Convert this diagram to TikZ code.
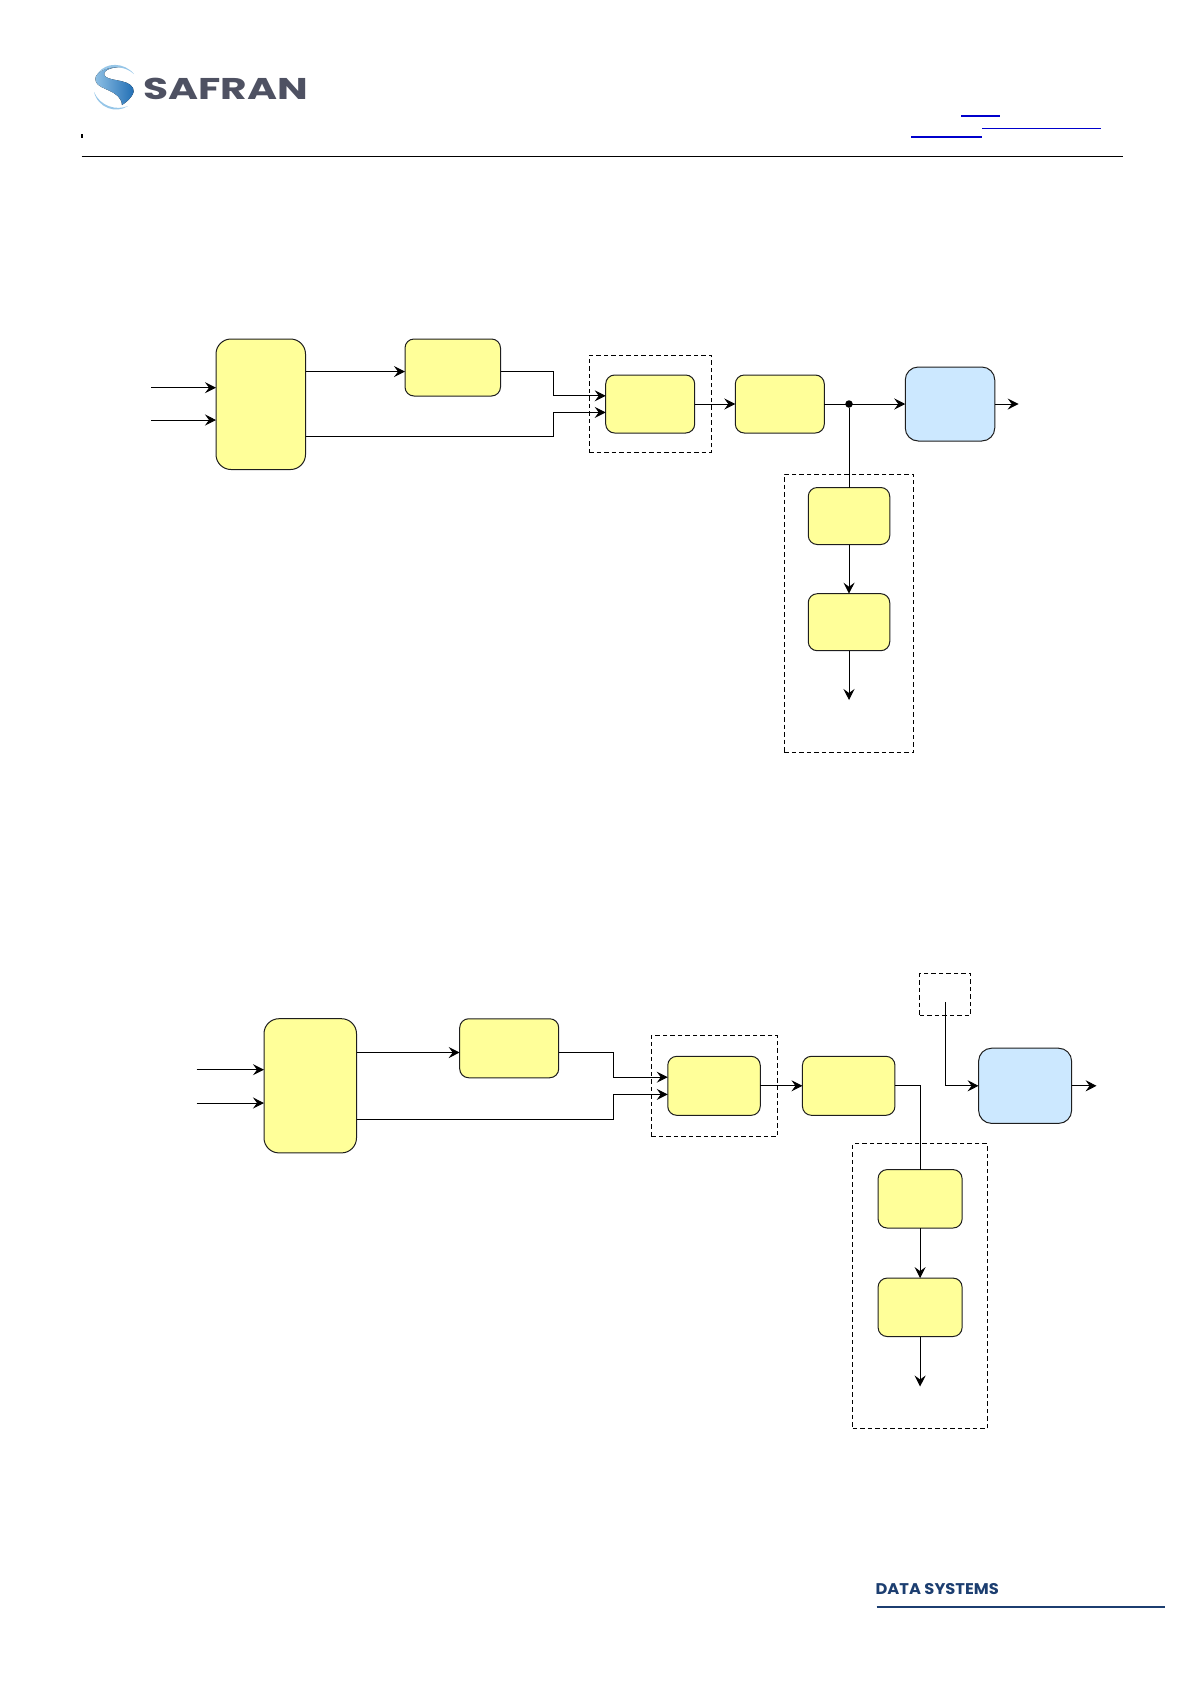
\documentclass[tikz,border=0pt]{standalone}
\usepackage{xcolor}
\usepackage{fontspec}
\usepackage{tikz}
\usetikzlibrary{arrows.meta, positioning}
\newfontfamily\brandfont{Poppins}
\definecolor{boxyellow}{RGB}{255, 255, 153}
\definecolor{boxblue}{RGB}{204, 232, 255}
\definecolor{edgegray}{RGB}{30, 30, 30}
\definecolor{brandgray}{RGB}{78, 81, 98}
\definecolor{brandnavy}{RGB}{28, 62, 112}
\definecolor{linkblue}{RGB}{0, 0, 204}
\definecolor{swooshlight}{RGB}{150, 198, 232}
\definecolor{swooshdark}{RGB}{28, 106, 178}

\begin{document}
\begin{tikzpicture}[x=1pt, y=-1pt,
    block/.style={rectangle, draw=edgegray, fill=boxyellow, line width=1pt, inner sep=0pt, outer sep=0pt, rounded corners=9pt},
    tallblock/.style={block, rounded corners=15pt},
    output/.style={block, fill=boxblue, rounded corners=13pt},
    smallA/.style={minimum width=89pt, minimum height=58pt},
    smallB/.style={minimum width=92.5pt, minimum height=59pt},
    group/.style={rectangle, draw=black, dash pattern=on 4.5pt off 3pt, line width=1pt, inner sep=0pt, outer sep=0pt},
    tap/.style={circle, fill=black, inner sep=0pt, minimum size=7.5pt},
    line/.style={draw=black, line width=1pt, -{Stealth[length=11pt, width=11pt, inset=4pt]}},
    wire/.style={draw=black, line width=1pt}]
    \useasboundingbox (0,0) rectangle (1191,1684);

    % header
    \fill [left color=swooshlight, right color=swooshdark] (122,67) .. controls (105,66) and (92,74) .. (96,82) .. controls (99,90) and (121,90) .. (122,105) .. controls (130,100) and (136,92) .. (133,88) .. controls (128,78) and (105,82) .. (104,74) .. controls (104,70) and (112,67) .. (122,67);
    \fill [swooshlight] (98,73) .. controls (106,62) and (124,62) .. (134,74) .. controls (124,65) and (108,65) .. (98,73);
    \fill [swooshlight] (94,92) .. controls (98,108) and (116,114) .. (128,106) .. controls (116,111) and (100,106) .. (94,92);
    \node [anchor=center, xscale=1.36, text=brandgray, font=\brandfont\bfseries\fontsize{30}{30}\selectfont] (brand) at (225.8,89) {SAFRAN};
    \fill (81,134) rectangle (83,138);
    \draw [linkblue, line width=2pt] (961,115.5) -- (1000,115.5);
    \draw [linkblue, line width=1pt] (982,128.4) -- (1101,128.4);
    \draw [linkblue, line width=2pt] (911,137) -- (982,137);
    \draw [black, line width=1.1pt] (81.6,156.3) -- (1123,156.3);

    % first chain
    \node [tallblock, minimum width=89.5pt, minimum height=130.5pt] (inputA) at (260.75,404.25) {};
    \node [block, minimum width=95.5pt, minimum height=57pt] (filterA) at (452.75,367.5) {};
    \node [block, smallA] (mixA) at (650.2,404) {};
    \node [block, smallA, right of=mixA, node distance=129.6pt] (procA) {};
    \node [tap, right of=procA, node distance=69.2pt] (tapA) {};
    \node [output, minimum width=89.5pt, minimum height=74pt, right of=tapA, node distance=101pt] (outA) {};
    \node [block, minimum width=81.5pt, minimum height=57pt, below of=tapA, node distance=112pt] (sideA) {};
    \node [block, minimum width=81.5pt, minimum height=57pt, below of=sideA, node distance=106.2pt] (sinkA) {};
    \node [group, minimum width=122pt, minimum height=97.5pt] (groupA) at (mixA) {};
    \node [group, minimum width=129.5pt, minimum height=278pt, below of=sideA, node distance=97pt] (stackA) {};

    \coordinate (inA1) at (151.4,387.7);
    \coordinate (inA2) at (151.4,420);
    \coordinate (upA) at (553,371.6);
    \coordinate (lowA) at (553,436.6);
    \coordinate (mergeA1) at (553,395.8);
    \coordinate (mergeA2) at (553,412.4);
    \coordinate (endA) at (1018.7,404);
    \coordinate (dropA) at (849,700);

    \path [line] (inA1) -- (inA1 -| inputA.west);
    \path [line] (inA2) -- (inA2 -| inputA.west);
    \path [line] (upA -| inputA.east) -- (upA -| filterA.west);
    \path [line] (upA -| filterA.east) -- (upA) -- (mergeA1) -- (mergeA1 -| mixA.west);
    \path [line] (lowA -| inputA.east) -- (lowA) -- (mergeA2) -- (mergeA2 -| mixA.west);
    \path [line] (mixA.east) -- (procA.west);
    \path [line] (procA.east) -- (outA.west);
    \path [line] (outA.east) -- (endA);
    \path [wire] (tapA) -- (sideA.north);
    \path [line] (sideA.south) -- (sinkA.north);
    \path [line] (sinkA.south) -- (sinkA.south |- dropA);

    % second chain
    \node [tallblock, minimum width=92.5pt, minimum height=134.2pt] (inputB) at (310.25,1085.8) {};
    \node [block, minimum width=99pt, minimum height=59pt] (filterB) at (509.2,1048.25) {};
    \node [block, smallB] (mixB) at (714,1085.8) {};
    \node [block, smallB, right of=mixB, node distance=134.7pt] (procB) {};
    \node [output, minimum width=93pt, minimum height=75.2pt, right of=procB, node distance=176.4pt] (outB) {};
    \node [block, minimum width=84pt, minimum height=58.4pt] (sideB) at (920.1,1198.8) {};
    \node [block, minimum width=84pt, minimum height=58.4pt, below of=sideB, node distance=108.5pt] (sinkB) {};
    \node [group, minimum width=126.2pt, minimum height=101pt] (groupB) at (714.5,1085.8) {};
    \node [group, minimum width=134.7pt, minimum height=284.6pt, below of=sideB, node distance=87.3pt] (stackB) {};
    \node [group, minimum width=51pt, minimum height=41.4pt] (clockB) at (945.4,994.3) {};

    \coordinate (inB1) at (196.5,1069.7);
    \coordinate (inB2) at (196.5,1103);
    \coordinate (upB) at (613.8,1052.5);
    \coordinate (lowB) at (613.8,1119.6);
    \coordinate (mergeB1) at (613.8,1077.2);
    \coordinate (mergeB2) at (613.8,1094.4);
    \coordinate (endB) at (1096.6,1085.8);
    \coordinate (dropB) at (920.1,1386.5);
    \coordinate (srcB) at (945.7,1002);

    \path [line] (inB1) -- (inB1 -| inputB.west);
    \path [line] (inB2) -- (inB2 -| inputB.west);
    \path [line] (upB -| inputB.east) -- (upB -| filterB.west);
    \path [line] (upB -| filterB.east) -- (upB) -- (mergeB1) -- (mergeB1 -| mixB.west);
    \path [line] (lowB -| inputB.east) -- (lowB) -- (mergeB2) -- (mergeB2 -| mixB.west);
    \path [line] (mixB.east) -- (procB.west);
    \path [wire] (procB.east) -| (sideB.north);
    \path [line] (srcB) |- (outB.west);
    \path [line] (outB.east) -- (endB);
    \path [line] (sideB.south) -- (sinkB.north);
    \path [line] (sinkB.south) -- (dropB);

    % footer
    \node [anchor=center, xscale=1.05, text=brandnavy, font=\brandfont\bfseries\fontsize{15.5}{15.5}\selectfont] (division) at (937.2,1589) {DATA SYSTEMS};
    \draw [brandnavy, line width=1.3pt] (876.7,1607) -- (1165,1607);
\end{tikzpicture}
\end{document}
